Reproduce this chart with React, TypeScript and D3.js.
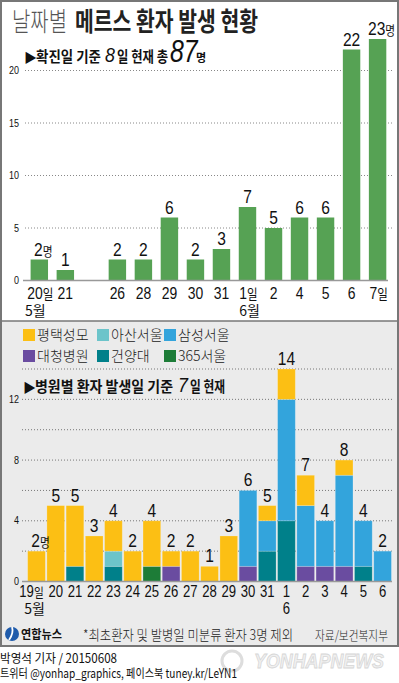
import React from "react";
import * as d3 from "d3";

const KR = "'Noto Sans CJK KR', 'Noto Sans', sans-serif";
const NUM = "'Liberation Sans', Arial, sans-serif";

// top chart: confirmed cases by confirmation date
const topDays = ["20일", "21", "26", "28", "29", "30", "31", "1일", "2", "4", "5", "6", "7일"];
const topValues = [2, 1, 2, 2, 6, 2, 3, 7, 5, 6, 6, 22, 23];
const topTicks = [0, 5, 10, 15, 20];
const topGrid = [5, 10, 15, 20];

// bottom chart: by hospital, by onset date
const bottomDays = ["19일", "20", "21", "22", "23", "24", "25", "26", "27", "28", "29", "30", "31", "1", "2", "3", "4", "5", "6"];
const hospitals = ["평택성모", "아산서울", "삼성서울", "대청병원", "건양대", "365서울"];
const hospitalColors = ["#fcbf14", "#6cc4ca", "#33a4dc", "#6a4ca0", "#00808a", "#1d7c37"];
const pyeongtaek = [2, 5, 4, 3, 2, 2, 3, 1, 2, 1, 3, 0, 1, 2, 2, 0, 1, 0, 0];
const asan = [0, 0, 0, 0, 1, 0, 0, 0, 0, 0, 0, 0, 0, 0, 0, 0, 0, 0, 0];
const samsung = [0, 0, 0, 0, 0, 0, 0, 0, 0, 0, 0, 5, 2, 8, 4, 3, 6, 3, 2];
const daecheong = [0, 0, 0, 0, 0, 0, 0, 1, 0, 0, 0, 1, 0, 0, 1, 1, 1, 0, 0];
const konyang = [0, 0, 1, 0, 1, 0, 0, 0, 0, 0, 0, 0, 2, 4, 0, 0, 0, 1, 0];
const seoul365 = [0, 0, 0, 0, 0, 0, 1, 0, 0, 0, 0, 0, 0, 0, 0, 0, 0, 0, 0];
const stackOrder = ["대청병원", "건양대", "365서울", "아산서울", "삼성서울", "평택성모"];
const bottomTicks = [0, 4, 8, 12];
const bottomGrid = [2, 4, 6, 8, 10, 12, 14];

const legendRows = [["평택성모", "아산서울", "삼성서울"], ["대청병원", "건양대", "365서울"]];

// condensed text helper
function CT(props: any) {
  const { x, y, sx = 0.82, anchor = "middle", size, children, fill = "#111", ...rest } = props;
  return (
    <text transform={`translate(${x},${y}) scale(${sx},1)`} textAnchor={anchor} fontFamily={NUM} fontSize={size} fill={fill} {...rest}>
      {children}
    </text>
  );
}

export default function App() {
  const topDomain = [...topDays.slice(0, 2), "_gap", ...topDays.slice(2)];
  const xTop = d3.scaleBand<string>().domain(topDomain).range([26.3, 390.6]).paddingInner(0.33).paddingOuter(0.165);
  const yTop = d3.scaleLinear().domain([0, 20]).range([280.5, 70.5]);

  const seriesMap: Record<string, number[]> = {
    "평택성모": pyeongtaek,
    "아산서울": asan,
    "삼성서울": samsung,
    "대청병원": daecheong,
    "건양대": konyang,
    "365서울": seoul365,
  };
  const rows = bottomDays.map((d, i) => {
    const r: any = { day: d };
    hospitals.forEach((h) => (r[h] = seriesMap[h][i]));
    return r;
  });
  const stacked = d3.stack<any>().keys(stackOrder)(rows);
  const totals = bottomDays.map((_, i) => hospitals.reduce((s, h) => s + seriesMap[h][i], 0));
  const color = d3.scaleOrdinal<string, string>().domain(hospitals).range(hospitalColors);
  const xBot = d3.scaleBand<string>().domain(bottomDays).range([26.9, 392.2]).paddingInner(0.08).paddingOuter(0.04);
  const yBot = d3.scaleLinear().domain([0, 14]).range([581.5, 369]);

  const legendX = [23, 97, 164];
  const legendY = [329, 350];

  return (
    <svg width={399} height={683} style={{ position: "absolute", left: 0, top: 0, background: "#fff" }}>
      {/* frame & backgrounds */}
      <rect x={0} y={321} width={399} height={325} fill="#ebebeb" />
      <rect x={1} y={1} width={397} height={645} fill="none" stroke="#777" strokeWidth={2} />
      <line x1={0} x2={399} y1={321} y2={321} stroke="#777" strokeWidth={1.5} />

      {/* title */}
      <text x={12} y={31} fontFamily={KR} fontSize={26} fontWeight={300} fill="#555" textLength={55} lengthAdjust="spacingAndGlyphs">날짜별</text>
      <text x={75} y={31} fontFamily={KR} fontSize={26} fontWeight={700} fill="#222" textLength={183} lengthAdjust="spacingAndGlyphs">메르스 환자 발생 현황</text>

      {/* top subtitle */}
      <text x={24} y={62} fontFamily={KR} fontSize={13} fill="#111">▶</text>
      <text x={36} y={62} fontFamily={KR} fontSize={15} fontWeight={700} fill="#111" textLength={65} lengthAdjust="spacingAndGlyphs">확진일 기준</text>
      <CT x={105} y={62} anchor="start" size={21} sx={0.85} fontStyle="italic">8</CT>
      <text x={117} y={62} fontFamily={KR} fontSize={15} fontWeight={700} fill="#111" textLength={51} lengthAdjust="spacingAndGlyphs">일 현재 총</text>
      <CT x={170} y={62} anchor="start" size={31} sx={0.8} fontStyle="italic">87</CT>
      <text x={196} y={62} fontFamily={KR} fontSize={11} fontWeight={700} fill="#111">명</text>

      {/* top grid */}
      {topGrid.map((t) => (
        <line key={"tg" + t} x1={25} x2={392} y1={yTop(t)} y2={yTop(t)} stroke="#888" strokeWidth={1} strokeDasharray="1,2" />
      ))}
      {topTicks.map((t) => (
        <CT key={"tt" + t} x={19} y={yTop(t) + 3.5} anchor="end" size={10} sx={0.9}>{t}</CT>
      ))}

      {/* top bars */}
      {topDays.map((d, i) => {
        const cx = xTop(d)! + xTop.bandwidth() / 2;
        const withUnit = i === 0 || i === topDays.length - 1;
        return (
          <g key={"tb" + d}>
            <rect x={xTop(d)} y={yTop(topValues[i])} width={xTop.bandwidth()} height={yTop(0) - yTop(topValues[i])} fill="#56a254" />
            <CT x={cx + (withUnit ? 4 : 0)} y={yTop(topValues[i]) - 4} size={19}>
              {topValues[i]}
              {withUnit && <tspan fontFamily={KR} fontSize={13}>명</tspan>}
            </CT>
            <CT x={cx + (d.includes("일") ? 1 : 0)} y={299} size={17}>
              {d.replace("일", "")}
              {d.includes("일") && <tspan fontFamily={KR} fontSize={14}>일</tspan>}
            </CT>
          </g>
        );
      })}
      <line x1={23} x2={388} y1={yTop(0)} y2={yTop(0)} stroke="#999" strokeWidth={1.5} />
      <text x={xTop("20일")! + xTop.bandwidth() / 2 - 4} y={316} textAnchor="middle" fontFamily={KR} fontSize={14} fill="#111">5월</text>
      <text x={xTop("1일")! + xTop.bandwidth() / 2 + 2} y={316} textAnchor="middle" fontFamily={KR} fontSize={14} fill="#111">6월</text>

      {/* legend */}
      {legendRows.map((row, ri) =>
        row.map((h, ci) => (
          <g key={"lg" + h}>
            <rect x={legendX[ci]} y={legendY[ri]} width={12} height={12} fill={color(h)} />
            <text x={legendX[ci] + 14} y={legendY[ri] + 11} fontFamily={KR} fontSize={14} fontWeight={300} fill="#222">{h}</text>
          </g>
        ))
      )}

      {/* bottom grid */}
      {bottomGrid.map((t) => (
        <line key={"bg" + t} x1={22} x2={392} y1={yBot(t)} y2={yBot(t)} stroke="#777" strokeWidth={1} strokeDasharray="1,2" />
      ))}
      {bottomTicks.map((t) => (
        <CT key={"bt" + t} x={19} y={yBot(t) + 3.5} anchor="end" size={10} sx={0.9}>{t}</CT>
      ))}

      {/* bottom subtitle */}
      <rect x={22} y={374} width={205} height={22} fill="#ebebeb" />
      <text x={23} y={392} fontFamily={KR} fontSize={13} fill="#111">▶</text>
      <text x={35} y={392} fontFamily={KR} fontSize={15} fontWeight={700} fill="#111" textLength={138} lengthAdjust="spacingAndGlyphs">병원별 환자 발생일 기준</text>
      <CT x={178} y={392} anchor="start" size={21} sx={0.85} fontStyle="italic">7</CT>
      <text x={190} y={392} fontFamily={KR} fontSize={15} fontWeight={700} fill="#111" textLength={35} lengthAdjust="spacingAndGlyphs">일 현재</text>

      {/* stacked bars */}
      {stacked.map((s) => (
        <g key={"s" + s.key} fill={color(s.key)}>
          {s.map((seg, i) =>
            seg[1] - seg[0] > 0 ? (
              <rect key={i} x={xBot(bottomDays[i])} y={yBot(seg[1])} width={xBot.bandwidth()} height={yBot(seg[0]) - yBot(seg[1])} stroke="rgba(255,255,255,0.25)" strokeWidth={0.8} />
            ) : null
          )}
        </g>
      ))}
      {bottomDays.map((d, i) => {
        const cx = xBot(d)! + xBot.bandwidth() / 2;
        return (
          <g key={"bl" + d}>
            <CT x={cx + (i === 0 ? 4 : 0)} y={yBot(totals[i]) - 4} size={19}>
              {totals[i]}
              {i === 0 && <tspan fontFamily={KR} fontSize={13}>명</tspan>}
            </CT>
            <CT x={cx - (i === 0 ? 5 : 0)} y={597} size={16}>
              {d.replace("일", "")}
              {d.includes("일") && <tspan fontFamily={KR} fontSize={13}>일</tspan>}
            </CT>
          </g>
        );
      })}
      <line x1={22} x2={392} y1={yBot(0)} y2={yBot(0)} stroke="#999" strokeWidth={1.5} />
      <text x={xBot("19일")! + xBot.bandwidth() / 2 - 2} y={614} textAnchor="middle" fontFamily={KR} fontSize={14} fill="#111">5월</text>
      <CT x={xBot("1")! + xBot.bandwidth() / 2} y={614} size={16}>6</CT>

      {/* footer inside frame */}
      <circle cx={12} cy={634} r={7} fill="#1f5bab" />
      <path d="M9,640 Q14,633 12,627" stroke="#fff" strokeWidth={1.8} fill="none" />
      <text x={21} y={639} fontFamily={KR} fontSize={12} fontWeight={700} fill="#111" textLength={41} lengthAdjust="spacingAndGlyphs">연합뉴스</text>
      <text x={83} y={640} fontFamily={KR} fontSize={14} fontWeight={300} fill="#222" textLength={210} lengthAdjust="spacingAndGlyphs">*최초환자 및 발병일 미분류 환자 3명 제외</text>
      <text x={315} y={640} fontFamily={KR} fontSize={13} fontWeight={300} fill="#222" textLength={73} lengthAdjust="spacingAndGlyphs">자료/보건복지부</text>

      {/* watermark */}
      <circle cx={232} cy={661} r={10} fill="none" stroke="#ddd" strokeWidth={3} />
      <text x={254} y={668} fontFamily={NUM} fontSize={20} fontWeight={700} fontStyle="italic" fill="#f0f0f0" stroke="#d6d6d6" strokeWidth={0.8} textLength={130} lengthAdjust="spacingAndGlyphs">YONHAPNEWS</text>

      {/* credits */}
      <text x={0} y={663} fontFamily={KR} fontSize={12.5} fill="#111" textLength={117} lengthAdjust="spacingAndGlyphs">박영석 기자 / 20150608</text>
      <text x={0} y={678} fontFamily={KR} fontSize={12.5} fill="#111" textLength={237} lengthAdjust="spacingAndGlyphs">트위터 @yonhap_graphics, 페이스북 tuney.kr/LeYN1</text>
    </svg>
  );
}
